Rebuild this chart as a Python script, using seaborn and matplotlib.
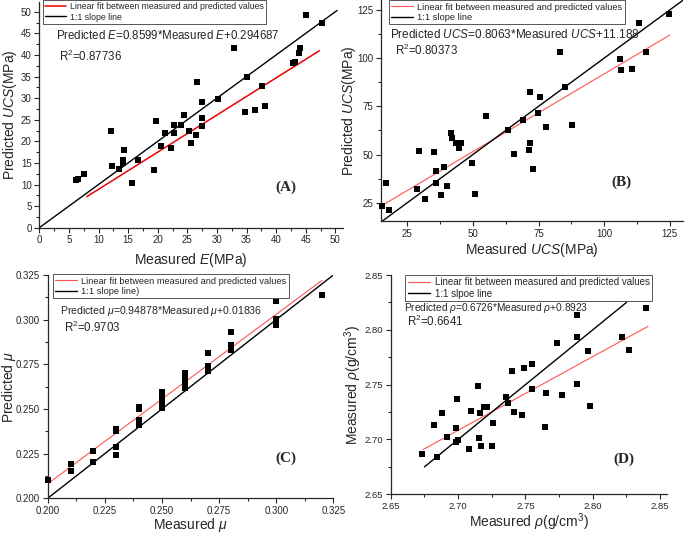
import numpy as np
import pandas as pd
import matplotlib
matplotlib.use("Agg")
import matplotlib.pyplot as plt
import seaborn as sns
from matplotlib.ticker import MultipleLocator

# (A) elastic modulus
a_meas = [6.25, 6.6, 7.5, 12.05, 12.3, 13.4, 14.1, 14.2, 14.3, 15.7, 16.7, 19.4, 19.65, 20.5,
          21.3, 22.2, 22.8, 22.8, 24.0, 24.4, 25.3, 25.6, 26.5, 26.6, 27.4, 27.4, 27.5, 30.2,
          32.9, 35.0, 34.7, 36.4, 37.6, 38.2, 42.8, 43.2, 43.8, 44.0, 45.05, 47.8]
a_pred = [11.0, 11.2, 12.4, 22.5, 14.4, 13.5, 15.6, 14.9, 18.1, 10.3, 15.6, 13.35, 24.7, 19.0,
          22.0, 18.4, 23.7, 22.0, 23.7, 26.2, 22.3, 19.5, 21.5, 33.7, 29.0, 25.5, 23.6, 29.7,
          41.7, 34.8, 26.7, 27.3, 32.9, 28.2, 38.2, 38.3, 40.4, 41.7, 49.2, 47.5]

# (B) UCS
b_meas = [15.2, 17.0, 18.0, 28.7, 29.5, 31.9, 35.2, 35.9, 36.1, 38.0, 39.1, 40.1, 41.5, 41.9,
          43.6, 44.6, 45.5, 49.7, 50.7, 55.0, 63.4, 65.7, 69.1, 71.6, 71.6, 71.5, 72.9, 74.7,
          75.7, 77.7, 83.1, 85.1, 87.9, 106.2, 106.4, 110.5, 113.4, 116.0, 124.9]
b_pred = [23.4, 35.1, 21.4, 32.0, 51.7, 26.8, 51.5, 41.6, 35.1, 29.2, 43.7, 33.7, 61.0, 58.7,
          55.8, 53.2, 55.8, 45.4, 29.7, 70.0, 62.7, 50.4, 67.9, 82.3, 56.1, 52.3, 42.3, 71.7,
          80.0, 64.1, 103.0, 85.0, 65.5, 99.4, 93.9, 94.5, 118.4, 103.2, 122.8]

# (C) Poisson's ratio
c_meas = [0.20, 0.21, 0.21, 0.22, 0.22, 0.23, 0.23, 0.23, 0.23, 0.24, 0.24, 0.24, 0.24,
          0.25, 0.25, 0.25, 0.25, 0.26, 0.26, 0.26, 0.26, 0.27, 0.27, 0.27, 0.28, 0.28, 0.28,
          0.30, 0.30, 0.30, 0.32]
c_pred = [0.2103, 0.2194, 0.2155, 0.2265, 0.2201, 0.2390, 0.2377, 0.2287, 0.2241, 0.2513,
          0.2500, 0.2438, 0.2412, 0.2597, 0.2569, 0.2537, 0.2507, 0.2700, 0.2672, 0.2644,
          0.2619, 0.2813, 0.2739, 0.2715, 0.2933, 0.2860, 0.2832, 0.3106, 0.3004, 0.2970,
          0.3138]

# (D) density
d_meas = [2.6735, 2.6842, 2.6824, 2.6883, 2.6916, 2.6983, 2.6983, 2.6998, 2.6995, 2.7084,
          2.7094, 2.7146, 2.7156, 2.7163, 2.7173, 2.7193, 2.7215, 2.7255, 2.7262, 2.7354,
          2.7373, 2.7403, 2.7413, 2.7473, 2.7492, 2.7552, 2.7547, 2.7651, 2.7646, 2.7772,
          2.7737, 2.7880, 2.7880, 2.7880, 2.7967, 2.7980, 2.8215, 2.8270, 2.8396]
d_pred = [2.6865, 2.6837, 2.7132, 2.7239, 2.7020, 2.7105, 2.6980, 2.6995, 2.7366, 2.6910,
          2.7260, 2.7485, 2.7016, 2.7239, 2.6944, 2.7299, 2.7296, 2.6938, 2.7153, 2.7387,
          2.7336, 2.7622, 2.7251, 2.7226, 2.7652, 2.7691, 2.7460, 2.7427, 2.7117, 2.7408,
          2.7883, 2.8135, 2.7933, 2.7509, 2.7807, 2.7305, 2.7932, 2.7813, 2.8196]

# fit parameters (slope, intercept) and drawn x ranges
fits = {"A": (0.8599, 0.294687), "B": (0.8063, 11.188), "C": (0.94878, 0.01836), "D": (0.6726, 0.8923)}
fit_range = {"A": (8.0, 47.3), "B": (15.0, 125.0), "C": (0.20, 0.32), "D": (2.674, 2.841)}
one_range = {"A": (0.0, 50.3), "B": (15.0, 130.0), "C": (0.20, 0.325), "D": (2.675, 2.825)}

sns.set_style("ticks")
plt.rcParams["font.family"] = ["Liberation Sans", "DejaVu Sans"]
plt.rcParams["mathtext.fontset"] = "custom"
plt.rcParams["mathtext.rm"] = "Liberation Sans"
plt.rcParams["mathtext.it"] = "Liberation Sans:italic"
plt.rcParams["mathtext.bf"] = "Liberation Sans:bold"

fig = plt.figure(figsize=(6.85, 5.33), dpi=100)

panels = [
    dict(key="A", x=a_meas, y=a_pred, pos=[0.0574, 0.5728, 0.4434, 0.4238],
         xlim=(0, 51.3), ylim=(0, 52.3), major=5, minor=2.5, fmt="{:.0f}",
         xlabel="Measured $E$(MPa)", ylabel="Predicted $UCS$(MPa)",
         leg=["Linear fit between measured and predicted values", "1:1 slope line"],
         eq="Predicted $E$=0.8599*Measured $E$+0.294687", r2="R$^2$=0.87736",
         red="#ee0000", red_lw=1.1, leg_fs=6.3, eq_fs=8.3, tick_fs=7,
         leg_at=(0.013, 1.008), eq_at=(0.055, 0.85), r2_at=(0.064, 0.757), tag_at=(0.812, 0.18),
         ylab_x=-0.095, xpad=4),
    dict(key="B", x=b_meas, y=b_pred, pos=[0.5564, 0.5854, 0.4404, 0.4139],
         xlim=(15, 130), ylim=(15.5, 130), major=25, minor=12.5, fmt="{:.0f}",
         xlabel="Measured $UCS$(MPa)", ylabel="Predicted $UCS$(MPa)",
         leg=["Linear fit between measured and predicted values", "1:1 slope line"],
         eq="Predicted $UCS$=0.8063*Measured $UCS$+11.188", r2="R$^2$=0.80373",
         red="#ff5555", red_lw=0.8, leg_fs=6.7, eq_fs=8.5, tick_fs=7,
         leg_at=(0.026, 1.0), eq_at=(0.03, 0.845), r2_at=(0.046, 0.775), tag_at=(0.795, 0.177),
         ylab_x=-0.108, xpad=2),
    dict(key="C", x=c_meas, y=c_pred, pos=[0.0696, 0.0651, 0.4171, 0.4190],
         xlim=(0.2, 0.325), ylim=(0.2, 0.325), major=0.025, minor=0.0125, fmt="{:.3f}",
         xlabel="Measured $\\mu$", ylabel="Predicted $\\mu$",
         leg=["Linear fit between measured and predicted values", "1:1 slope line)"],
         eq="Predicted $\\mu$=0.94878*Measured $\\mu$+0.01836", r2="R$^2$=0.9703",
         red="#ff5555", red_lw=0.8, leg_fs=6.7, eq_fs=7.6, tick_fs=7,
         leg_at=(0.019, 1.003), eq_at=(0.043, 0.84), r2_at=(0.058, 0.766), tag_at=(0.834, 0.179),
         ylab_x=-0.135, xpad=0),
    dict(key="D", x=d_meas, y=d_pred, pos=[0.5704, 0.0726, 0.4031, 0.4114],
         xlim=(2.65, 2.855), ylim=(2.65, 2.85), major=0.05, minor=0.025, fmt="{:.2f}",
         xlabel="Measured $\\rho$(g/cm$^3$)", ylabel="Measured $\\rho$(g/cm$^3$)",
         leg=["Linear fit between measured and predicted values", "1:1 slpoe line"],
         eq="Predicted $\\rho$=0.6726*Measured $\\rho$+0.8923", r2="R$^2$=0.6641",
         red="#ff5555", red_lw=0.8, leg_fs=7.0, eq_fs=7.3, tick_fs=6.8,
         leg_at=(0.052, 1.001), eq_at=(0.049, 0.851), r2_at=(0.06, 0.787), tag_at=(0.845, 0.161),
         ylab_x=-0.135, xpad=0),
]

for p in panels:
    ax = fig.add_axes(p["pos"])
    k = p["key"]
    slope, icpt = fits[k]
    fx = np.array(fit_range[k])
    ox = np.array(one_range[k])
    ax.plot(fx, slope * fx + icpt, color=p["red"], lw=p["red_lw"], label=p["leg"][0])
    ax.plot(ox, ox, color="black", lw=1.0, label=p["leg"][1])
    df = pd.DataFrame({"measured": p["x"], "predicted": p["y"]})
    sns.scatterplot(data=df, x="measured", y="predicted", ax=ax, marker="s", s=20,
                    color="black", edgecolor="black", linewidth=0, zorder=3, clip_on=False)
    ax.set_xlim(*p["xlim"])
    ax.set_ylim(*p["ylim"])
    for axis in (ax.xaxis, ax.yaxis):
        axis.set_major_locator(MultipleLocator(p["major"]))
        axis.set_minor_locator(MultipleLocator(p["minor"]))
    fmt = p["fmt"]
    ax.xaxis.set_major_formatter(plt.FuncFormatter(lambda v, _, f=fmt: f.format(v)))
    ax.yaxis.set_major_formatter(plt.FuncFormatter(lambda v, _, f=fmt: f.format(v)))
    ax.tick_params(which="major", direction="out", length=3.5, width=0.8,
                   labelsize=p["tick_fs"], pad=2)
    ax.tick_params(which="minor", direction="out", length=2, width=0.8)
    sns.despine(ax=ax)
    for s in ("left", "bottom"):
        ax.spines[s].set_linewidth(0.9)
    ax.set_xlabel(p["xlabel"], fontsize=10, labelpad=p["xpad"])
    ax.set_ylabel(p["ylabel"], fontsize=10)
    ax.yaxis.label.set_va("center")
    ax.yaxis.set_label_coords(p["ylab_x"], 0.5)
    leg = ax.legend(loc="upper left", bbox_to_anchor=p["leg_at"], borderaxespad=0,
                    fontsize=p["leg_fs"], frameon=True, fancybox=False, framealpha=1,
                    edgecolor="#555555", handlelength=2.3, borderpad=0.25,
                    labelspacing=0.15, handletextpad=0.5)
    leg.get_frame().set_linewidth(0.7)
    ax.text(*p["eq_at"], p["eq"], transform=ax.transAxes, fontsize=p["eq_fs"],
            va="center", ha="left")
    ax.text(*p["r2_at"], p["r2"], transform=ax.transAxes, fontsize=8.3, va="center", ha="left")
    ax.text(*p["tag_at"], "(" + k + ")", transform=ax.transAxes, fontsize=11,
            fontweight="bold", family="Liberation Serif", va="center", ha="center")

fig.savefig("out.png", dpi=100)
